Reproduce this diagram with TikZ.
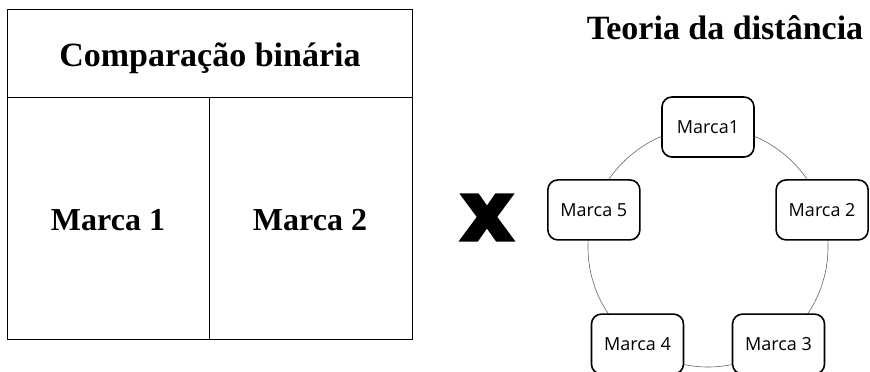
\documentclass[tikz,border=0pt]{standalone}
\usepackage{fontspec}
\usetikzlibrary{calc}
\setmainfont{Liberation Serif}
\newfontfamily\boxfont{Open Sans}
\newfontfamily\xfont{DejaVu Sans}[BoldFeatures={FakeBold=4}]
\begin{document}
\begin{tikzpicture}[x=1pt,y=1pt,
  title/.style={font=\fontsize{34}{40}\selectfont\bfseries, inner sep=0pt, anchor=base},
  cell/.style={font=\fontsize{32}{38}\selectfont\bfseries, inner sep=0pt, anchor=base},
  brand/.style={draw=black, line width=1.6pt, rounded corners=10pt, fill=white,
    minimum width=92pt, minimum height=60pt, font=\boxfont\fontsize{18}{22}\selectfont},
  ring/.style={draw=black!60, line width=0.6pt}]
\useasboundingbox (0,0) rectangle (870,372);
% table
\draw[line width=1pt] (7,32) rectangle (412,362);
\draw[line width=1pt] (7,274) -- (412,274);
\draw[line width=1pt] (209,32) -- (209,274);
\node[title] (tcomp) at (210,305.5) {Comparação binária};
\node[cell] (c1) at (108,141.3) {Marca 1};
\node[cell] (c2) at (310,141.3) {Marca 2};
% x
\node[font=\xfont\bfseries\fontsize{82}{90}\selectfont, inner sep=0pt] (vs) at (487,154.5) {x};
% distance theory
\node[title] (tdist) at (725,332) {Teoria da distância};
\coordinate (ctr) at (708,125);
\draw[ring] (ctr) circle[radius=120];
\node[brand] (m1) at ($(ctr)+(90:120)$) {Marca1};
\node[brand] (m2) at ($(ctr)+(18:120)$) {Marca 2};
\node[brand] (m3) at ($(ctr)+(-54:120)$) {Marca 3};
\node[brand] (m4) at ($(ctr)+(-126:120)$) {Marca 4};
\node[brand] (m5) at ($(ctr)+(162:120)$) {Marca 5};
\end{tikzpicture}
\end{document}
